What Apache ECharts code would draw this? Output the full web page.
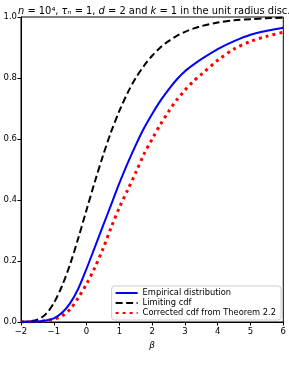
<!DOCTYPE html>
<html><head><meta charset="utf-8">
<script src="https://cdn.jsdelivr.net/npm/echarts@6/dist/echarts.min.js"></script>
<style>html,body{margin:0;padding:0;background:#fff}#c{width:289px;height:365px}</style>
</head><body><div id="c"></div>
<script>
var beta = [-2,-1.75,-1.5,-1.25,-1,-0.75,-0.5,-0.25,0,0.25,0.5,0.75,1,1.25,1.5,1.75,2,2.25,2.5,2.75,3,3.25,3.5,4,4.5,5,5.5,6];
var empirical = [0.000,0.001,0.002,0.005,0.012,0.030,0.062,0.110,0.175,0.245,0.315,0.385,0.455,0.520,0.580,0.635,0.682,0.725,0.762,0.795,0.822,0.843,0.862,0.895,0.921,0.942,0.955,0.965];
var limiting = [0.0005,0.002,0.008,0.025,0.062,0.118,0.190,0.276,0.368,0.459,0.545,0.624,0.692,0.751,0.800,0.840,0.873,0.900,0.921,0.938,0.951,0.962,0.970,0.982,0.989,0.993,0.996,0.9975];
var corrected = [0.000,0.0005,0.0015,0.004,0.009,0.020,0.042,0.080,0.125,0.178,0.240,0.310,0.375,0.432,0.490,0.550,0.600,0.647,0.690,0.728,0.760,0.788,0.812,0.858,0.895,0.920,0.937,0.950];
var xTicks = [-2,-1,0,1,2,3,4,5,6];
var yTicks = [0,0.2,0.4,0.6,0.8,1.0];
var names = ['Empirical distribution','Limiting cdf','Corrected cdf from Theorem 2.2'];

function pairs(ys){ return beta.map(function(b,i){return [b, ys[i]];}); }
var F = 'DejaVu Sans';
var chart = echarts.init(document.getElementById('c'));
chart.setOption({
  animation:false,
  title:{
    text:'{i|n} = 10⁴, {i|τₙ} = 1, {i|d} = 2 and {i|k} = 1 in the unit radius disc.',
    left:13, top:1,
    textStyle:{fontFamily:F,fontSize:9.9,fontWeight:'normal',color:'#000',
      rich:{i:{fontFamily:F,fontSize:9.9,fontStyle:'italic',color:'#000'}}}
  },
  grid:{left:21,right:5,top:17,bottom:43,show:true,borderColor:'#000',borderWidth:1,backgroundColor:'transparent'},
  xAxis:{type:'value',min:-2,max:6,interval:1,
    name:'β',nameLocation:'middle',nameGap:19,
    nameTextStyle:{fontFamily:F,fontSize:9,fontStyle:'italic',color:'#000'},
    axisLine:{show:true,onZero:false,lineStyle:{color:'#000',width:1}},
    axisTick:{show:true,length:3.5,lineStyle:{color:'#000'}},
    splitLine:{show:false},
    axisLabel:{fontFamily:F,fontSize:8.5,color:'#000',margin:5,
      formatter:function(v){return String(v).replace('-','\u2212');}}
  },
  yAxis:{type:'value',min:0,max:1,interval:0.2,
    axisLine:{show:true,onZero:false,lineStyle:{color:'#000',width:1}},
    axisTick:{show:true,length:3.5,lineStyle:{color:'#000'}},
    splitLine:{show:false},
    axisLabel:{fontFamily:F,fontSize:8.5,color:'#000',margin:4,
      formatter:function(v){return v.toFixed(1);}}
  },
  legend:{
    orient:'vertical', right:8, bottom:45,
    data:names,
    backgroundColor:'#fff', borderColor:'#ccc', borderWidth:1, borderRadius:3,
    padding:[3,5,3,3], itemGap:2, itemWidth:22, itemHeight:9.5,
    itemStyle:{opacity:0},
    textStyle:{fontFamily:F,fontSize:8.3,color:'#000'}
  },
  series:[
    {name:names[0],type:'line',data:pairs(empirical),smooth:0.3,showSymbol:false,symbol:'none',
      lineStyle:{color:'#0000ff',width:2},itemStyle:{color:'#0000ff'},z:3},
    {name:names[1],type:'line',data:pairs(limiting),smooth:0.3,showSymbol:false,symbol:'none',
      lineStyle:{color:'#000',width:2,type:[7,3.5]},itemStyle:{color:'#000'},z:2},
    {name:names[2],type:'line',data:pairs(corrected),smooth:0.3,showSymbol:false,symbol:'none',
      lineStyle:{color:'#ff0000',width:3,type:[3,4]},itemStyle:{color:'#ff0000'},z:1}
  ]
});
</script></body></html>
